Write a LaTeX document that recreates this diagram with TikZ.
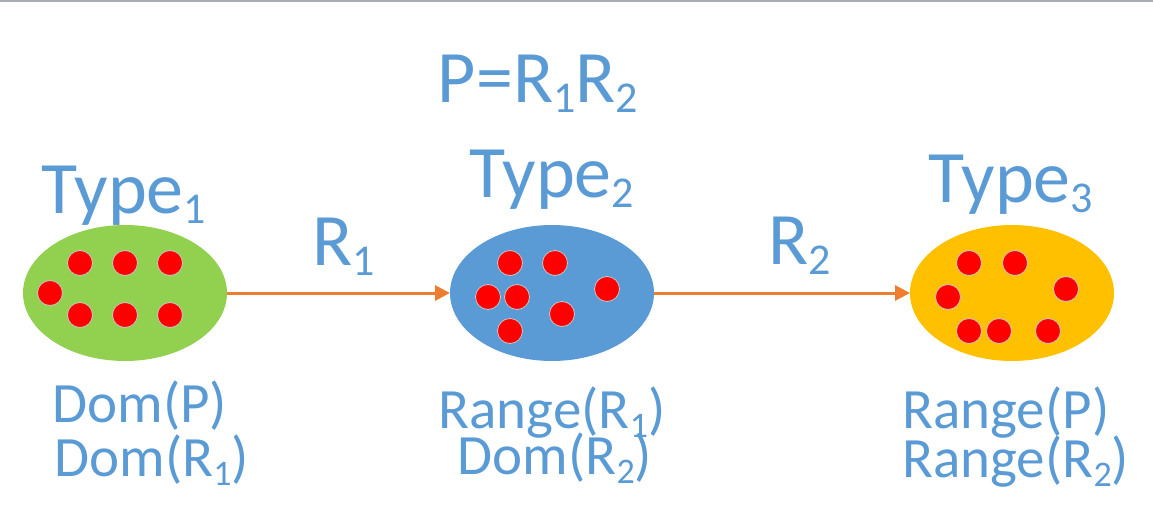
\documentclass[tikz,border=0pt]{standalone}
\usepackage{fontspec}
\setmainfont{Carlito}
\usepackage{tikz}
\definecolor{txtblue}{RGB}{91,155,213}
\definecolor{setgreen}{RGB}{146,208,80}
\definecolor{setblue}{RGB}{91,155,213}
\definecolor{setyellow}{RGB}{255,192,0}
\definecolor{relorange}{RGB}{237,125,49}
\definecolor{rulegray}{RGB}{166,173,180}
\usetikzlibrary{arrows.meta}
\usetikzlibrary{shapes.geometric}
\newcommand{\bigidx}[1]{\raisebox{-5pt}{\fontsize{22}{22}\selectfont #1}}
\newcommand{\smallidx}[1]{\raisebox{-4.5pt}{\fontsize{18}{18}\selectfont #1}}

\begin{document}
\begin{tikzpicture}[x=0.5pt, y=-0.5pt, >={Triangle[length=7.5pt,width=7.5pt]},   %Pfeilspitzen
					typeset/.style={ellipse, minimum width=102pt, minimum height=68pt, inner sep=0pt, outer sep=0pt},
					elem/.style={circle, fill=red, draw=gray!45, line width=0.4pt, minimum size=12.5pt, inner sep=0pt},
					biglabel/.style={text=txtblue, font=\fontsize{37}{44}\selectfont, inner sep=0pt},
					smalllabel/.style={text=txtblue, font=\fontsize{28.5}{30}\selectfont, inner sep=0pt},
					rel/.style={->, draw=relorange, line width=1.5pt}]
					\useasboundingbox (0,0) rectangle (1153,525);
					\draw[rulegray, line width=0.8pt] (0,1) -- (1153,1);
					\node[typeset, fill=setgreen] (type1) at (125,293) {};
					\node[typeset, fill=setblue] (type2) at (552,293) {};
					\node[typeset, fill=setyellow] (type3) at (1012,293) {};
					\foreach \x/\y [count=\i] in {80/263, 125/263, 170/263, 50/293, 80/315, 125/315, 170/315}
						\node[elem] (a\i) at (\x,\y) {};
					\foreach \x/\y [count=\i] in {510/263, 555/263, 488/297, 517/297, 607/289, 562/314, 510/331}
						\node[elem] (b\i) at (\x,\y) {};
					\foreach \x/\y [count=\i] in {969/263, 1015/263, 948/297, 1066/289, 969/331, 999/331, 1048/331}
						\node[elem] (c\i) at (\x,\y) {};
					\draw[rel] (type1) -- (type2);
					\draw[rel] (type2) -- (type3);
					\node[biglabel, anchor=base] (t1) at (124,213) {Type\bigidx{1}};
					\node[biglabel, anchor=base] (t2) at (552,197) {Type\bigidx{2}};
					\node[biglabel, anchor=base] (t3) at (1011,202) {Type\bigidx{3}};
					\node[biglabel, anchor=base] (path) at (538,102) {P=R\bigidx{1}R\bigidx{2}};
					\node[biglabel, anchor=base] (r1) at (344,265) {R\bigidx{1}};
					\node[biglabel, anchor=base] (r2) at (800,264) {R\bigidx{2}};
					\node[smalllabel, anchor=base west] (d1) at (52,422) {Dom(P)};
					\node[smalllabel, anchor=base west] (d2) at (54,476) {Dom(R\smallidx{1})};
					\node[smalllabel, anchor=base] (d3) at (552,428) {Range(R\smallidx{1})};
					\node[smalllabel, anchor=base] (d4) at (555,474) {Dom(R\smallidx{2})};
					\node[smalllabel, anchor=base west] (d5) at (902,428) {Range(P)};
					\node[smalllabel, anchor=base west] (d6) at (902,477) {Range(R\smallidx{2})};
				\end{tikzpicture}
\end{document}
